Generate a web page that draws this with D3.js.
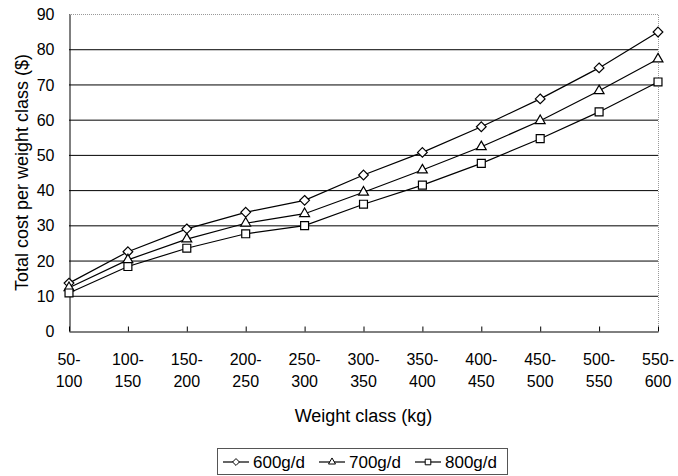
<!DOCTYPE html>
<html>
<head>
<meta charset="utf-8">
<script src="https://cdn.jsdelivr.net/npm/d3@7"></script>
<style>
  body { margin: 0; background: #fff; }
  svg text { font-family: "Liberation Sans", Arial, sans-serif; fill: #000; }
</style>
</head>
<body>
<svg id="chart" width="678" height="476"></svg>
<script>
// Data
const categories = ['50-100', '100-150', '150-200', '200-250', '250-300', '300-350',
    '350-400', '400-450', '450-500', '500-550', '550-600'];
const cost600 = [13.6, 22.5, 29.0, 33.7, 37.1, 44.3, 50.7, 58.0, 65.9, 74.7, 84.9];
const cost700 = [12.3, 20.2, 26.1, 30.6, 33.3, 39.4, 45.7, 52.3, 59.7, 68.2, 77.2];
const cost800 = [10.8, 18.3, 23.5, 27.6, 29.9, 36.0, 41.4, 47.6, 54.6, 62.2, 70.7];
const yTicks = [0, 10, 20, 30, 40, 50, 60, 70, 80, 90];

const series = [
    { name: '600g/d', values: cost600, marker: 'diamond' },
    { name: '700g/d', values: cost700, marker: 'triangle' },
    { name: '800g/d', values: cost800, marker: 'square' }
];

/**
 * Visual configs.
 */
const margin = { top: 14, right: 20, bottom: 145, left: 69 };
const visWidth = 678, visHeight = 476;
const width = visWidth - margin.left - margin.right,
    height = visHeight - margin.top - margin.bottom;

const svg = d3.select('#chart');
const g = svg.append('g').attr('transform', 'translate(' + margin.left + ',' + margin.top + ')');

const xScale = d3.scalePoint().domain(categories).range([0, width]);
const yScale = d3.scaleLinear().domain([0, 90]).range([height, 0]);

// Gridlines (the 90 line is the dotted plot border)
g.append('g').attr('class', 'grid')
    .selectAll('line').data(yTicks.filter(t => t > 0 && t < 90))
    .enter().append('line')
        .attr('x1', 0).attr('x2', width)
        .attr('y1', d => yScale(d) + 0.5).attr('y2', d => yScale(d) + 0.5)
        .attr('stroke', '#000').attr('stroke-width', 1);

// Plot border top + right
g.append('path')
    .attr('d', 'M0,' + (yScale(90) + 0.5) + 'H' + (width + 0.5) + 'V' + height)
    .attr('fill', 'none').attr('stroke', '#999').attr('stroke-dasharray', '1,1');

// y axis
const yAxis = d3.axisLeft(yScale).tickValues(yTicks).tickSize(0).tickPadding(15);
const yAxisG = g.append('g').attr('transform', 'translate(0.5,0)').call(yAxis);
yAxisG.select('.domain').attr('stroke', '#000');
yAxisG.selectAll('text').attr('font-size', 16).attr('dy', '0.35em');

// x axis with inward ticks
const xAxis = d3.axisBottom(xScale).tickSize(-5).tickSizeOuter(0).tickFormat('');
const xAxisG = g.append('g').attr('transform', 'translate(0,' + (height + 0.5) + ')').call(xAxis);
xAxisG.select('.domain').attr('stroke', '#000');
xAxisG.selectAll('.tick line').attr('stroke', '#000');

// x tick labels on two lines
const xLabels = g.append('g').selectAll('text').data(categories)
    .enter().append('text')
        .attr('text-anchor', 'middle')
        .attr('font-size', 16);
xLabels.append('tspan')
    .attr('x', d => xScale(d)).attr('y', 365 - margin.top)
    .text(d => d.split('-')[0] + '-');
xLabels.append('tspan')
    .attr('x', d => xScale(d)).attr('y', 387 - margin.top)
    .text(d => d.split('-')[1]);

// Axis titles
svg.append('text')
    .attr('x', margin.left + width / 2).attr('y', 422)
    .attr('text-anchor', 'middle').attr('font-size', 18)
    .text('Weight class (kg)');
svg.append('text')
    .attr('transform', 'translate(28,' + (margin.top + height / 2) + ') rotate(-90)')
    .attr('text-anchor', 'middle').attr('font-size', 18)
    .text('Total cost per weight class ($)');

// Markers
const markerPath = {
    diamond: d3.symbol().type(d3.symbolDiamond2 || d3.symbolSquare2).size(60),
    triangle: d3.symbol().type(d3.symbolTriangle2).size(70),
    square: d3.symbol().type(d3.symbolSquare2).size(80)
};
const legendMarkerPath = {
    diamond: d3.symbol().type(d3.symbolDiamond2 || d3.symbolSquare2).size(30),
    triangle: d3.symbol().type(d3.symbolTriangle2).size(35),
    square: d3.symbol().type(d3.symbolSquare2).size(40)
};

const line = d3.line().x((d, i) => xScale(categories[i])).y(d => yScale(d));

const items = g.append('g').attr('class', 'items').selectAll('g').data(series)
    .enter().append('g');
items.append('path')
    .attr('d', d => line(d.values))
    .attr('fill', 'none').attr('stroke', '#000').attr('stroke-width', 1.2);
items.each(function(s) {
    d3.select(this).selectAll('path.pt').data(s.values)
        .enter().append('path').attr('class', 'pt')
            .attr('transform', (d, i) => 'translate(' + xScale(categories[i]) + ',' + yScale(d) + ')')
            .attr('d', markerPath[s.marker])
            .attr('fill', '#fff').attr('stroke', '#000').attr('stroke-width', 1.2);
});

// Legend
const legend = svg.append('g').attr('class', 'legend');
legend.append('rect')
    .attr('x', 217.5).attr('y', 448.5).attr('width', 290).attr('height', 26)
    .attr('fill', '#fff').attr('stroke', '#555');
let lx = 223;
series.forEach(s => {
    const e = legend.append('g').attr('transform', 'translate(' + lx + ',462)');
    e.append('line').attr('x1', 0).attr('x2', 26).attr('stroke', '#000').attr('stroke-width', 1.2);
    e.append('path').attr('transform', 'translate(13,0)')
        .attr('d', legendMarkerPath[s.marker])
        .attr('fill', '#fff').attr('stroke', '#000').attr('stroke-width', 1);
    const t = e.append('text').attr('x', 30).attr('y', 6).attr('font-size', 17).text(s.name);
    lx += 30 + t.node().getComputedTextLength() + 14;
});
</script>
</body>
</html>
